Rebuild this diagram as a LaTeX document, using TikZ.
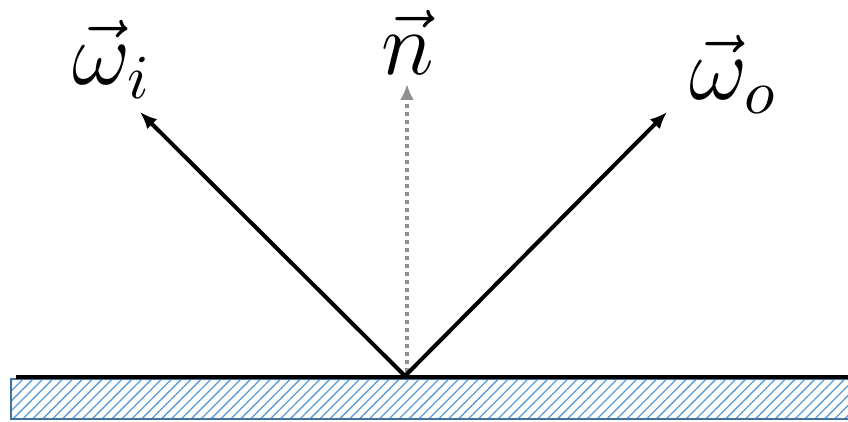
\documentclass[tikz,border=0pt]{standalone}
\usetikzlibrary{arrows.meta,patterns.meta}
\definecolor{hatchblue}{HTML}{5B9BD5}
\definecolor{borderblue}{HTML}{41719C}
\definecolor{normalgray}{HTML}{909090}
\newcommand{\biglbl}[1]{\scalebox{6.25}{\Large #1}}
\tikzset{
  ray/.style={line width=4pt,-{Latex[length=17pt,width=14pt]}},
  normalray/.style={normalgray,line width=4pt,dash pattern=on 4pt off 4pt,-{Latex[length=16pt,width=14pt]}},
  lbl/.style={inner sep=0pt,anchor=base},
}
\begin{document}
\begin{tikzpicture}[x=1pt,y=-1pt]
\useasboundingbox (0,0) rectangle (848,422);
\clip (0,0) rectangle (848,422);
% surface
\draw[borderblue,line width=2pt,pattern={Lines[angle=45,distance=7pt,line width=1.3pt]},pattern color=hatchblue]
  (11,379) rectangle (870,419);
\draw[line width=4pt] (16,377) -- (860,377);
\coordinate (apex) at (405,376);
\coordinate (itip) at (140,112);
\coordinate (otip) at (667,112);
\coordinate (nbase) at (407,372);
\coordinate (ntip) at (407,84);
\draw[normalray] (nbase) -- (ntip);
\draw[ray] (apex) -- (itip);
\draw[ray] (apex) -- (otip);
\node[lbl] (wi) at (112,85) {\biglbl{$\vec{\omega}_i$}};
\node[lbl] (n) at (408,75) {\biglbl{$\vec{n}$}};
\node[lbl] (wo) at (734,100) {\biglbl{$\vec{\omega}_o$}};
\end{tikzpicture}
\end{document}
